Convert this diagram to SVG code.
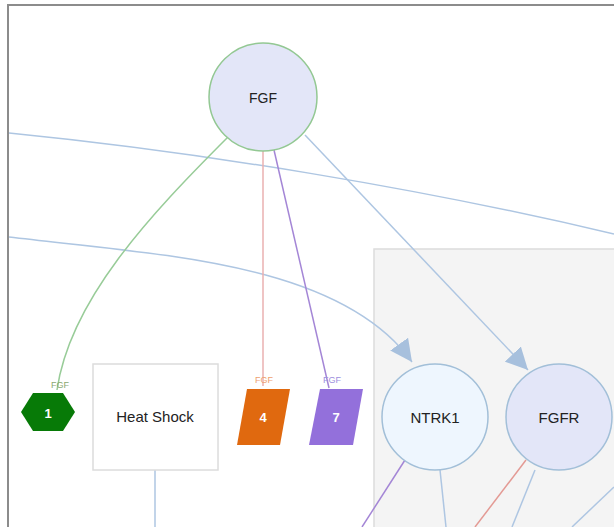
<svg xmlns="http://www.w3.org/2000/svg" width="614" height="527" viewBox="0 0 614 527">
<style>
text{font-family:"Liberation Sans",Arial,sans-serif;text-anchor:middle;dominant-baseline:central}
.lbl{font-size:15px;fill:#222}
.num{font-size:13px;fill:#fff;font-weight:bold}
.small{font-size:9px}
.e{fill:none;stroke-width:1.5}
.blue{stroke:#aec6e2}
</style>
<defs>
<marker id="arrB" viewBox="0 0 10 10" refX="10" refY="5" markerWidth="22" markerHeight="22" markerUnits="userSpaceOnUse" orient="auto">
<path d="M0,0 L10,5 L0,10 z" fill="#a7c0dd"/>
</marker>
</defs>
<rect x="0" y="0" width="614" height="527" fill="#fff"/>
<g id="group-box">
<rect x="374" y="249" width="260" height="300" fill="#f4f4f4" stroke="#dcdcdc" stroke-width="1.5"/>
</g>
<g id="connectors">
<path class="e blue" d="M9,133 C200,152 420,188 614,234"/>
<path class="e blue" d="M9,237 C160,255 340,262 412,362" marker-end="url(#arrB)"/>
<path class="e blue" d="M305,135 L528,370" marker-end="url(#arrB)"/>
<path class="e" stroke="#98cc98" d="M228,137 C150,215 70,300 57,390"/>
<path class="e" stroke="#eab0b0" d="M263,151 L263,386"/>
<path class="e" stroke="#a486d6" d="M274,150 L329,388"/>
<path class="e blue" d="M155,470 L155,527"/>
<path class="e" stroke="#a486d6" d="M405,460 L362,527"/>
<path class="e blue" d="M440,470 L446,527"/>
<path class="e" stroke="#e39a94" d="M526,460 L475,527"/>
<path class="e blue" d="M535,470 L512,527"/>
<path class="e blue" d="M614,487 L572,527"/>
</g>
<g id="frame">
<path d="M8,527 L8,5 L614,5" fill="none" stroke="#8c8c8c" stroke-width="2"/>
</g>
<g id="node-fgf">
<circle cx="263" cy="97" r="54" fill="#e3e6f8" stroke="#93c893" stroke-width="1.5"/>
<text x="263" y="98" class="lbl" style="font-size:14px">FGF</text>
</g>
<g id="node-1">
<polygon points="21,412 33,393 63,393 75,412 63,431 33,431" fill="#077a07"/>
<text x="48" y="413" class="num">1</text>
<text x="60" y="385" class="small" fill="#8aa870">FGF</text>
</g>
<g id="node-heatshock">
<rect x="93" y="364" width="125" height="106" fill="#fff" stroke="#dcdcdc" stroke-width="1.5"/>
<text x="155" y="416" class="lbl">Heat Shock</text>
</g>
<g id="node-4">
<polygon points="247,389 290,389 280,445 237,445" fill="#e0690f"/>
<text x="263" y="417" class="num">4</text>
<text x="264" y="380" class="small" fill="#eea170">FGF</text>
</g>
<g id="node-7">
<polygon points="320,389 363,389 353,445 309,445" fill="#9370db"/>
<text x="336" y="417" class="num">7</text>
<text x="332" y="380" class="small" fill="#9d8fde">FGF</text>
</g>
<g id="node-ntrk1">
<circle cx="435" cy="417" r="53" fill="#eef6fe" stroke="#a2bfd8" stroke-width="1.5"/>
<text x="435" y="417" class="lbl">NTRK1</text>
</g>
<g id="node-fgfr">
<circle cx="559" cy="417" r="53" fill="#e3e6f8" stroke="#a2bfd8" stroke-width="1.5"/>
<text x="559" y="417" class="lbl">FGFR</text>
</g>
</svg>
